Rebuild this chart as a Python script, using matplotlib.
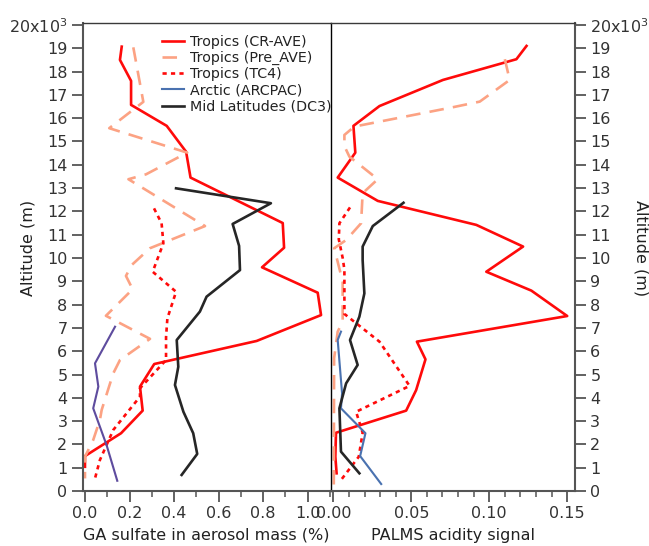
import matplotlib
matplotlib.use("Agg")
import matplotlib.pyplot as plt
from matplotlib.ticker import MultipleLocator, FixedLocator, FixedFormatter

plt.rcParams['font.family'] = ['DejaVu Sans']

# ---- left panel: GA sulfate in aerosol mass (%) ----
cr_ave_ga = [0.165, 0.157, 0.207, 0.207, 0.367, 0.454, 0.474, 0.888, 0.894, 0.795,
             1.045, 1.06, 0.771, 0.311, 0.247, 0.259, 0.162, 0.0, 0.0]
cr_ave_ga_alt = [19.07, 18.5, 17.6, 16.57, 15.67, 14.56, 13.45, 11.5, 10.44, 9.6,
                 8.51, 7.55, 6.44, 5.45, 4.48, 3.45, 2.48, 1.5, 1.04]

pre_ave_ga = [0.217, 0.262, 0.109, 0.459, 0.274, 0.195, 0.539, 0.292, 0.21, 0.184,
              0.214, 0.094, 0.292, 0.157, 0.127, 0.075, 0.067, 0.037, 0.0, 0.0]
pre_ave_ga_alt = [19.04, 16.7, 15.57, 14.52, 13.59, 13.38, 11.37, 10.42, 9.7, 9.23,
                  8.66, 7.52, 6.53, 5.62, 5.05, 3.48, 3.05, 2.19, 1.47, 0.54]

tc4_ga = [0.31, 0.344, 0.352, 0.304, 0.409, 0.37, 0.364, 0.364, 0.247, 0.247,
          0.127, 0.067, 0.045]
tc4_ga_alt = [12.13, 11.49, 10.63, 9.41, 8.55, 7.41, 6.6, 5.62, 4.41, 4.05,
              2.62, 1.33, 0.54]

arcpac_ga = [0.135, 0.045, 0.06, 0.037, 0.097, 0.145]
arcpac_ga_alt = [7.05, 5.48, 4.48, 3.55, 1.97, 0.44]

dc3_ga = [0.409, 0.835, 0.663, 0.692, 0.696, 0.546, 0.516, 0.412, 0.419, 0.404,
          0.442, 0.486, 0.504, 0.434]
dc3_ga_alt = [12.99, 12.35, 11.46, 10.52, 9.48, 8.34, 7.7, 6.48, 5.33, 4.55,
              3.4, 2.48, 1.59, 0.69]

# ---- right panel: PALMS acidity signal ----
cr_ave_ac = [0.1239, 0.1174, 0.0703, 0.0296, 0.0129, 0.0141, 0.0028, 0.0285, 0.0917,
             0.1217, 0.0981, 0.127, 0.150, 0.0536, 0.0591, 0.0531, 0.0467, 0.0017,
             0.0013, 0.0021]
cr_ave_ac_alt = [19.1, 18.53, 17.64, 16.52, 15.67, 14.52, 13.45, 12.45, 11.42,
                 10.49, 9.41, 8.6, 7.51, 6.41, 5.65, 4.33, 3.45, 2.5, 1.47, 0.76]

pre_ave_ac = [0.110, 0.1131, 0.0939, 0.0767, 0.0135, 0.0071, 0.0071, 0.0103, 0.0285,
              0.0188, 0.0178, 0.0082, 0.0006, 0.006, 0.006, 0.0028, 0.0005, 0.0003]
pre_ave_ac_alt = [18.53, 17.64, 16.71, 16.47, 15.64, 15.28, 14.8, 14.35, 13.38,
                  12.78, 11.49, 10.77, 10.42, 8.98, 7.27, 6.84, 5.7, 0.25]

tc4_ac = [0.0107, 0.0039, 0.0035, 0.006, 0.0071, 0.0071, 0.0188, 0.0296, 0.0489,
          0.0146, 0.0188, 0.0163, 0.0049]
tc4_ac_alt = [12.17, 11.49, 10.8, 10.0, 9.5, 7.6, 6.98, 6.41, 4.51,
              3.4, 2.5, 1.47, 0.47]

arcpac_ac = [0.0049, 0.0028, 0.0056, 0.0049, 0.0206, 0.0172, 0.0307]
arcpac_ac_alt = [6.84, 6.48, 4.19, 3.55, 2.48, 1.5, 0.3]

dc3_ac = [0.045, 0.0253, 0.0188, 0.0188, 0.0199, 0.0167, 0.0107, 0.0156, 0.0082,
          0.0039, 0.0049, 0.0167]
dc3_ac_alt = [12.37, 11.37, 10.49, 9.91, 8.48, 7.48, 6.48, 5.41, 4.62,
              3.55, 1.69, 0.76]

labels = ["Tropics (CR-AVE)", "Tropics (Pre_AVE)", "Tropics (TC4)",
          "Arctic (ARCPAC)", "Mid Latitudes (DC3)"]

alt_ticks = list(range(0, 21))
alt_labels = [str(a) for a in range(20)] + [r"20x10$^{3}$"]

RED = "#ff0a0a"
SALMON = "#fca283"
BLUE = "#4a72b0"
PURPLE = "#5e4c9e"
BLACK = "#262626"
LW = 1.9
FS = 11.5

fig = plt.figure(figsize=(6.49, 5.46), dpi=100)
ax1 = fig.add_axes([0.1274, 0.1007, 0.381, 0.857])
ax2 = fig.add_axes([0.5100, 0.1007, 0.376, 0.857])

dash = dict(dashes=(5.5, 3.5))
dots = dict(dashes=(1.6, 1.6))

ax1.plot(cr_ave_ga, cr_ave_ga_alt, color=RED, lw=LW)
ax1.plot(pre_ave_ga, pre_ave_ga_alt, color=SALMON, lw=LW, **dash)
ax1.plot(tc4_ga, tc4_ga_alt, color=RED, lw=LW, **dots)
ax1.plot(arcpac_ga, arcpac_ga_alt, color=PURPLE, lw=LW * 0.8)
ax1.plot(dc3_ga, dc3_ga_alt, color=BLACK, lw=LW)

h1, = ax2.plot(cr_ave_ac, cr_ave_ac_alt, color=RED, lw=LW)
h2, = ax2.plot(pre_ave_ac, pre_ave_ac_alt, color=SALMON, lw=LW, **dash)
h3, = ax2.plot(tc4_ac, tc4_ac_alt, color=RED, lw=LW, **dots)
h4, = ax2.plot(arcpac_ac, arcpac_ac_alt, color=BLUE, lw=LW * 0.8)
h5, = ax2.plot(dc3_ac, dc3_ac_alt, color=BLACK, lw=LW)

ax1.set_xlim(-0.0103, 1.10)
ax2.set_xlim(-0.0015, 0.155)
for ax in (ax1, ax2):
    ax.set_ylim(0, 20.08)
    ax.yaxis.set_major_locator(FixedLocator(alt_ticks))
    ax.yaxis.set_major_formatter(FixedFormatter(alt_labels))
    for s in ax.spines.values():
        s.set_color("#3a3a3a")
        s.set_linewidth(1.0)
    ax.tick_params(axis="both", which="major", direction="out", length=8,
                   width=1.3, color="#555555", labelcolor="#333333")
    ax.tick_params(axis="both", which="minor", direction="out", length=4,
                   width=1.1, color="#555555")
    ax.tick_params(axis="x", labelsize=FS, pad=3)
    ax.tick_params(axis="y", labelsize=FS, pad=3)

ax1.xaxis.set_major_locator(MultipleLocator(0.2))
ax1.xaxis.set_minor_locator(MultipleLocator(0.1))
ax1.xaxis.set_major_formatter(plt.FuncFormatter(lambda v, p: "%.1f" % v))
ax2.xaxis.set_major_locator(MultipleLocator(0.05))
ax2.xaxis.set_minor_locator(MultipleLocator(0.01))
ax2.xaxis.set_major_formatter(plt.FuncFormatter(lambda v, p: "%.2f" % v))

ax1.spines["right"].set_visible(False)
ax1.spines["left"].set_linewidth(1.5)
ax1.spines["left"].set_color("#555555")
ax1.spines["bottom"].set_color("#555555")
ax1.spines["bottom"].set_linewidth(1.5)
ax2.spines["left"].set_color("black")
ax2.spines["bottom"].set_color("#555555")
ax2.spines["bottom"].set_linewidth(1.5)
ax2.spines["right"].set_color("#555555")
ax2.spines["right"].set_linewidth(1.5)
ax2.tick_params(axis="y", left=False, labelleft=False, right=True, labelright=True)

ax1.set_xlabel("GA sulfate in aerosol mass (%)", fontsize=FS, color="#222222")
ax2.set_xlabel("PALMS acidity signal", fontsize=FS, color="#222222")
for ax in (ax1, ax2):
    ax.xaxis.set_label_coords(0.5, -0.078)
ax1.set_ylabel("Altitude (m)", fontsize=FS, color="#222222")
ax1.yaxis.set_label_coords(-0.19, 0.52)
ax2.yaxis.set_label_position("right")
ax2.set_ylabel("Altitude (m)", fontsize=FS, color="#222222", rotation=-90,
               va="center")
ax2.yaxis.set_label_coords(1.27, 0.52)

ax1.legend([h1, h2, h3, h4, h5], labels, loc="upper left",
           bbox_to_anchor=(0.32, 0.975), frameon=False, fontsize=10.3,
           handlelength=1.55, handletextpad=0.4, labelspacing=0.15,
           borderpad=0, borderaxespad=0, labelcolor="#222222")

fig.savefig("out.png", dpi=100)
